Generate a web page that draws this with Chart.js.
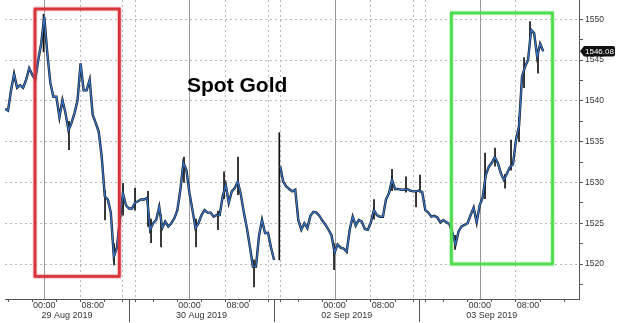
<!DOCTYPE html>
<html><head><meta charset="utf-8">
<script src="https://cdn.jsdelivr.net/npm/chart.js@4.4.0/dist/chart.umd.min.js"></script>
<style>html,body{margin:0;padding:0;background:#fff;}#wrap{width:620px;height:323px;}</style>
</head><body><div id="wrap"><canvas id="c" width="620" height="323"></canvas></div>
<script>
// Time axis in "chart hours": 24 = 29 Aug 00:00, 48 = 30 Aug 00:00, 72 = 02 Sep 00:00, 96 = 03 Sep 00:00
const FIRST_BAR_HOUR = 17.5;
const BAR_HOURS = 0.5;
const closes = [
  1539.0,1538.8,1541.3,1543.3,1541.6,1541.9,1541.6,1542.6,1544.0,1543.2,
  1542.6,1545.0,1547.1,1550.3,1545.8,1542.2,1540.5,1540.5,1538.0,1540.1,
  1538.5,1536.4,1537.3,1538.5,1540.1,1544.6,1541.3,1541.3,1542.6,1538.3,
  1537.3,1536.2,1533.1,1528.3,1527.9,1526.3,1520.9,1522.0,1525.4,1528.7,
  1527.2,1526.8,1526.8,1527.5,1527.7,1527.9,1527.9,1528.1,1524.2,1525.0,
  1525.4,1527.0,1524.4,1525.2,1524.6,1525.0,1525.6,1526.6,1529.1,1532.4,
  1531.5,1528.7,1526.6,1524.4,1525.0,1526.0,1526.6,1526.3,1526.3,1525.8,
  1526.0,1526.0,1528.3,1529.7,1527.5,1528.9,1529.3,1530.1,1528.5,1526.3,
  1524.4,1522.1,1519.7,1519.7,1523.4,1525.4,1523.8,1523.8,1522.0,1520.5,
  null,1532.0,1530.1,1529.5,1529.2,1528.9,1529.1,1525.4,1524.2,1525.0,
  1524.4,1525.9,1526.4,1526.3,1525.9,1525.3,1524.8,1524.2,1523.5,1521.4,
  1522.4,1522.0,1521.9,1521.5,1524.2,1525.8,1524.7,1525.4,1525.2,1524.3,
  1524.2,1525.1,1526.6,1526.0,1525.8,1525.8,1527.9,1528.7,1530.3,1529.2,
  1529.2,1529.1,1529.1,1529.2,1529.0,1528.9,1528.9,1529.0,1528.8,1526.6,
  1526.3,1525.8,1525.9,1525.7,1525.1,1525.4,1525.1,1524.9,1523.8,1522.4,
  1524.0,1524.6,1524.8,1525.0,1526.0,1526.9,1525.1,1527.2,1528.2,1530.9,
  1531.9,1532.4,1533.1,1532.4,1531.1,1530.3,1531.1,1531.9,1532.2,1535.2,
  1536.9,1543.0,1544.2,1545.0,1548.7,1548.3,1545.4,1547.0,1546.08
];
// black high/low wicks of notable bars
const wickHours = [23.87,28.08,34.04,35.53,37.02,39.00,41.15,41.65,43.30,47.10,49.09,52.72,53.72,56.03,58.68,62.86,71.91,78.52,81.50,83.81,85.47,86.13,91.92,96.88,98.53,100.19,101.18,102.50,103.33,104.32,105.64];
const wickLows  = [1546.0,1534.0,1525.4,1519.9,1526.0,1526.6,1524.6,1522.6,1522.1,1530.0,1522.1,1524.2,1528.0,1528.5,1517.2,1520.5,1519.3,1525.5,1529.0,1528.8,1527.0,1528.8,1521.8,1528.0,1532.0,1529.3,1531.5,1535.0,1541.6,1547.0,1543.4];
const wickHighs = [1550.6,1537.5,1529.0,1522.5,1529.9,1529.3,1528.9,1525.5,1526.0,1533.1,1525.5,1526.5,1531.3,1533.1,1520.5,1536.1,1522.5,1527.9,1531.6,1530.7,1529.0,1530.9,1523.5,1533.6,1534.2,1531.0,1535.2,1538.0,1545.3,1549.7,1546.0];

const X_MIN = 17.5, X_MAX = 112.42;
const Y_MIN = 1515.71, Y_MAX = 1552.36;
const xTickHours = [20,24,28,32,36,38,40,44,48,52,56,60,62,64,68,72,76,80,84,86,88,92,96,100,104,108,112];
const xGridHours = [32,38,40,56,62,64,80,86,88,104];
const midnightHours = [24,48,72,96];
const sessionBreakHours = [38,62,86];
const dateCenterHours = [27.75,50,74,98];
const dateLabels = ['29 Aug 2019','30 Aug 2019','02 Sep 2019','03 Sep 2019'];
const yTicks = [1517.5,1520,1522.5,1525,1527.5,1530,1532.5,1535,1537.5,1540,1542.5,1545,1547.5,1550];
const redBox = {x0:22.46, x1:36.40, y0:1518.48, y1:1551.26};
const greenBox = {x0:91.31, x1:108.04, y0:1520.0, y1:1550.77};
const TITLE = 'Spot Gold';

const FONT = '"Liberation Sans", Arial, sans-serif';
const linePts = closes.map((v,i)=>({x: FIRST_BAR_HOUR + i*BAR_HOURS, y: v}));
const wickPts = wickHours.map((h,i)=>({x: h, y: [wickLows[i], wickHighs[i]]}));

const overlay = {
  id:'overlay',
  beforeDatasetsDraw(chart){
    const {ctx, chartArea:a, scales:{x}} = chart;
    ctx.save(); ctx.strokeStyle='#9a9a9a'; ctx.lineWidth=1;
    midnightHours.forEach(h=>{
      const px = Math.round(x.getPixelForValue(h))+0.5;
      ctx.beginPath(); ctx.moveTo(px,a.top); ctx.lineTo(px,a.bottom); ctx.stroke();
    });
    ctx.restore();
  },
  afterDatasetsDraw(chart){
    const {ctx, chartArea:a, scales:{x,y}} = chart;
    const box = (b,col)=>{
      const l=x.getPixelForValue(b.x0), r=x.getPixelForValue(b.x1);
      const t=y.getPixelForValue(b.y1), bt=y.getPixelForValue(b.y0);
      ctx.save(); ctx.strokeStyle=col; ctx.lineWidth=2.6;
      ctx.shadowColor=col; ctx.shadowBlur=2;
      ctx.strokeRect(l,t,r-l,bt-t); ctx.restore();
    };
    box(redBox,'#d8343c');
    box(greenBox,'#4fdc4f');
    ctx.save();
    ctx.font='bold 21px '+FONT; ctx.fillStyle='#000'; ctx.textBaseline='alphabetic';
    ctx.fillText(TITLE, 187, 92);
    ctx.strokeStyle='#555'; ctx.lineWidth=1;
    sessionBreakHours.forEach(h=>{
      const px=Math.round(x.getPixelForValue(h))+0.5;
      ctx.beginPath(); ctx.moveTo(px,a.bottom); ctx.lineTo(px,a.bottom+23); ctx.stroke();
    });
    ctx.restore();
  },
  afterDraw(chart){
    const {ctx, chartArea:a, scales:{y}} = chart;
    const last = closes[closes.length-1];
    const py = y.getPixelForValue(last);
    const l = a.right+1, r = a.right+36, h = 5.3;
    ctx.save();
    ctx.fillStyle='#111';
    ctx.beginPath();
    ctx.moveTo(l,py); ctx.lineTo(l+4,py-h); ctx.lineTo(r-2,py-h);
    ctx.quadraticCurveTo(r,py-h,r,py-h+2); ctx.lineTo(r,py+h-2);
    ctx.quadraticCurveTo(r,py+h,r-2,py+h); ctx.lineTo(l+4,py+h); ctx.closePath(); ctx.fill();
    ctx.fillStyle='#fff'; ctx.font='8px '+FONT; ctx.textBaseline='middle'; ctx.textAlign='left';
    ctx.fillText(last.toFixed(2), l+5, py+0.5);
    ctx.restore();
  }
};

new Chart(document.getElementById('c'), {
  type:'line',
  data:{datasets:[
    {type:'bar', data:wickPts, backgroundColor:'#111', barThickness:1, order:3},
    {data:linePts, borderColor:'#161616', borderWidth:2.4, pointRadius:0, tension:0, spanGaps:false, order:2},
    {data:linePts, borderColor:'#3574c6', borderWidth:1.3, pointRadius:0, tension:0, spanGaps:false, order:1}
  ]},
  options:{
    responsive:false, animation:false, events:[],
    layout:{padding:{left:5,right:0,top:0,bottom:0}},
    plugins:{legend:{display:false}, tooltip:{enabled:false}},
    scales:{
      x:{type:'linear', position:'bottom', min:X_MIN, max:X_MAX, offset:false,
        afterBuildTicks:s=>{ s.ticks = xTickHours.map(v=>({value:v})); },
        afterFit:s=>{ s.height = 13; s.paddingLeft = 0; s.paddingRight = 0; },
        grid:{color:c=>(c.tick && xGridHours.includes(c.tick.value)) ? '#b8b8b8' : 'rgba(0,0,0,0)', tickColor:'#555', tickLength:3, lineWidth:1},
        border:{display:true, color:'#555', dash:[2,3]},
        ticks:{autoSkip:false, maxRotation:0, padding:-1, color:'#333', font:{family:FONT, size:9, lineHeight:1},
          callback:v=> v%24===0 ? '00:00' : (v%24===8 ? '08:00' : '')}
      },
      x2:{type:'linear', position:'bottom', min:X_MIN, max:X_MAX, offset:false,
        afterBuildTicks:s=>{ s.ticks = dateCenterHours.map(v=>({value:v})); },
        afterFit:s=>{ s.height = 11; s.paddingLeft = 0; s.paddingRight = 0; },
        grid:{display:false, drawTicks:false}, border:{display:false},
        ticks:{autoSkip:false, maxRotation:0, padding:-1, color:'#333', font:{family:FONT, size:9, lineHeight:1},
          callback:(v,i)=>dateLabels[i]}
      },
      y:{type:'linear', position:'right', min:Y_MIN, max:Y_MAX,
        afterBuildTicks:s=>{ s.ticks = yTicks.map(v=>({value:v})); },
        afterFit:s=>{ s.width = 41; s.paddingTop = 0; s.paddingBottom = 0; },
        grid:{color:c=>(c.tick && c.tick.value%5===0) ? '#b8b8b8' : 'rgba(0,0,0,0)', tickColor:'#555', tickLength:4},
        border:{display:true, color:'#555', dash:[2,3]},
        ticks:{padding:2, color:'#333', font:{family:FONT, size:8.5},
          callback:v=> v%5===0 ? String(v) : ''}
      }
    }
  },
  plugins:[overlay]
});
</script></body></html>
